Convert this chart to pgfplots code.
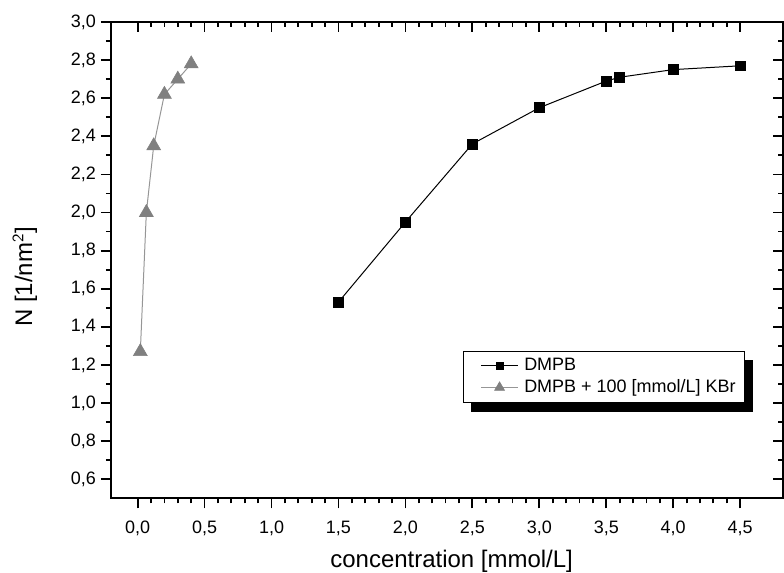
\documentclass[border=0pt]{standalone}
\usepackage{pgfplots}
\pgfplotsset{compat=1.18}
\usepackage{fontspec}
\setmainfont{Liberation Sans}
\usetikzlibrary{backgrounds}
\definecolor{tri}{RGB}{128,128,128}
\definecolor{triline}{RGB}{150,150,150}
\begin{document}
\begin{tikzpicture}
\pgfplotsset{
  common/.style={
    scale only axis,
    width=336.5pt, height=238.5pt,
    xmin=-0.2, xmax=4.82, ymin=0.5, ymax=3.0,
    xtick={0,0.5,...,4.5},
    ytick={0.6,0.8,...,3.0},
    minor x tick num=4,
    minor y tick num=1,
    major tick length=5pt,
    minor tick length=2.5pt,
    axis line style={line width=1pt},
    every tick/.style={line width=0.9pt, black},
  }
}
\begin{axis}[common, name=ax,
    tick align=outside,
    xtick pos=left, ytick pos=left,
    /pgf/number format/assume math mode=true,
    /pgf/number format/use comma,
    /pgf/number format/fixed,
    /pgf/number format/fixed zerofill,
    /pgf/number format/precision=1,
    ticklabel style={font=\fontsize{9}{10}\selectfont},
    xticklabel style={yshift=-3pt},
    yticklabel style={xshift=1pt},
    xlabel={concentration [mmol/L]},
    ylabel={N [1/nm$^{\mathsf{2}}$]},
    label style={font=\fontsize{12}{14}\selectfont},
    xlabel style={at={(axis description cs:0.507,-0.132)}, anchor=center},
    ylabel style={at={(axis description cs:-0.128,0.465)}, anchor=center},
    legend cell align=left,
    legend style={name=leg, at={(axis description cs:0.5245,0.310)}, anchor=north west,
      font=\fontsize{9}{10}\selectfont, draw=black, line width=0.5pt,
      fill=white, inner xsep=2.5pt, inner ysep=1.5pt, row sep=-1pt},
    legend image post style={/tikz/every mark/.append style={scale=0.72}},
    legend image code/.code={%
      \path (-6pt,0) (0.64cm+1pt,0);
      \draw[mark repeat=2,mark phase=2] plot coordinates {(0cm,0cm) (0.32cm,0cm) (0.64cm,0cm)};},
]
\addplot[black, line width=0.5pt, mark=square*, mark size=2.5pt,
  mark options={solid, fill=black, line width=0.3pt}]
  coordinates {(1.5,1.53)(2.0,1.95)(2.5,2.36)(3.0,2.55)(3.5,2.69)(3.6,2.71)(4.0,2.75)(4.5,2.77)};
\addlegendentry{DMPB}
\addplot[triline, line width=0.5pt, mark=triangle*, mark size=4pt,
  mark options={solid, fill=tri, draw=tri, line width=0.3pt}]
  coordinates {(0.02,1.27)(0.065,2.00)(0.12,2.35)(0.20,2.62)(0.30,2.70)(0.40,2.78)};
\addlegendentry{DMPB + 100 [mmol/L] KBr}
\end{axis}
\begin{axis}[common,
    tick align=inside,
    xtick pos=right, ytick pos=right,
    xticklabels={}, yticklabels={},
]
\end{axis}
\begin{scope}[on background layer]
\fill[black] ([shift={(4pt,-4.5pt)}]leg.south west) rectangle ([shift={(4pt,-4.5pt)}]leg.north east);
\end{scope}
\pgfresetboundingbox
\path[use as bounding box] ([shift={(-55.5pt,-37pt)}]ax.south west) rectangle ([shift={(0.5pt,11pt)}]ax.north east);
\end{tikzpicture}
\end{document}
